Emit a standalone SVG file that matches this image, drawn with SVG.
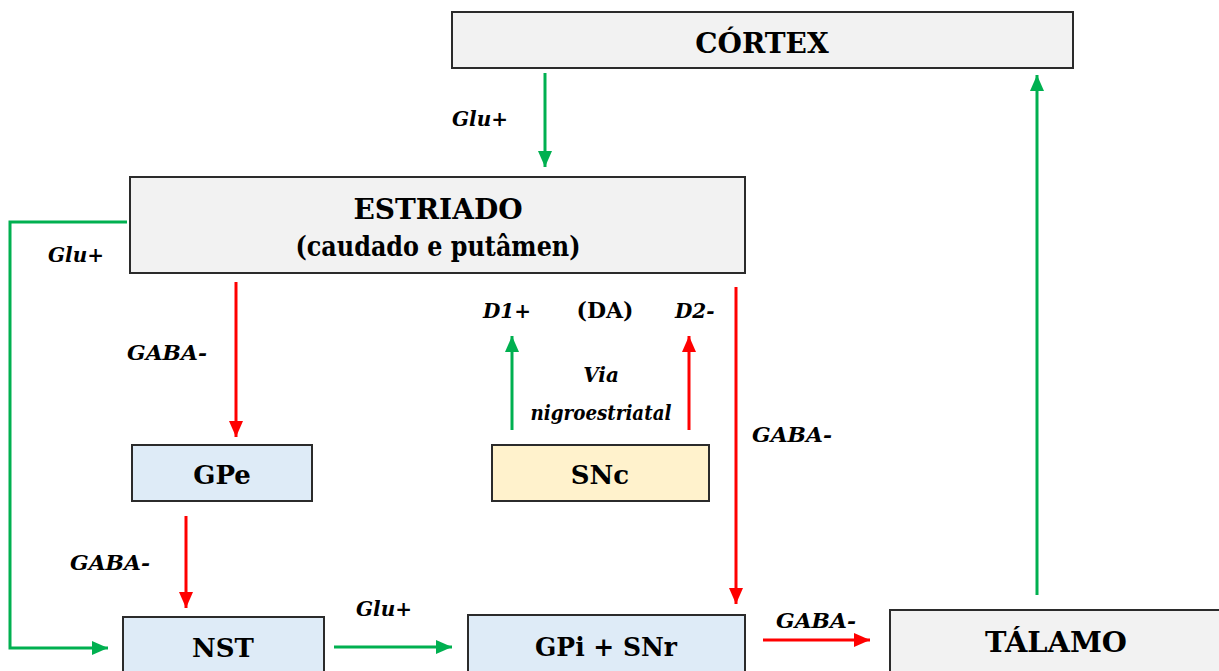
<svg xmlns="http://www.w3.org/2000/svg" width="1219" height="671" viewBox="0 0 1219 671">
<style>
.box{stroke:#2b2b2b;stroke-width:2}
.gray{fill:#f2f2f2}
.blue{fill:#deebf7}
.yel{fill:#fff2cc}
.t{font-family:'DejaVu Serif','Liberation Serif',serif;font-weight:700;font-size:26px;fill:#000;text-anchor:middle}
.big{font-size:28px}
.l{font-family:'DejaVu Serif','Liberation Serif',serif;font-weight:700;font-style:italic;font-size:20px;fill:#000}
.g{stroke:#00b050;stroke-width:3;fill:none}
.r{stroke:#ff0000;stroke-width:3;fill:none}
</style>
<defs>
<marker id="ag" markerUnits="userSpaceOnUse" markerWidth="16" markerHeight="16" viewBox="0 0 16 16" refX="16" refY="8" orient="auto"><path d="M0,1 L16,8 L0,15 Z" fill="#00b050"/></marker>
<marker id="ar" markerUnits="userSpaceOnUse" markerWidth="16" markerHeight="16" viewBox="0 0 16 16" refX="16" refY="8" orient="auto"><path d="M0,1 L16,8 L0,15 Z" fill="#ff0000"/></marker>
</defs>
<g id="cortex"><rect class="box gray" x="452" y="12" width="621" height="56"/><text class="t big" x="762" y="53">CÓRTEX</text></g>
<g id="estriado"><rect class="box gray" x="130" y="177" width="615" height="96"/><text class="t big" x="438" y="219">ESTRIADO</text><text class="t big" x="438" y="256" textLength="285" lengthAdjust="spacingAndGlyphs">(caudado e putâmen)</text></g>
<g id="gpe"><rect class="box blue" x="132" y="445" width="180" height="56"/><text class="t" x="222" y="484">GPe</text></g>
<g id="snc"><rect class="box yel" x="492" y="445" width="217" height="56"/><text class="t" x="600" y="484">SNc</text></g>
<g id="nst"><rect class="box blue" x="123" y="617" width="201" height="60"/><text class="t" x="223" y="657">NST</text></g>
<g id="gpi"><rect class="box blue" x="468" y="615" width="277" height="62"/><text class="t" x="606" y="656" textLength="142" lengthAdjust="spacingAndGlyphs">GPi + SNr</text></g>
<g id="talamo"><rect class="box gray" x="890" y="610" width="335" height="67"/><text class="t big" x="1056" y="652" textLength="142" lengthAdjust="spacingAndGlyphs">TÁLAMO</text></g>
<g id="connectors">
<path class="g" d="M545,73 V167" marker-end="url(#ag)"/>
<path class="g" d="M127,222 H10 V648 H108" marker-end="url(#ag)"/>
<path class="r" d="M236,282 V437" marker-end="url(#ar)"/>
<path class="r" d="M186,516 V608" marker-end="url(#ar)"/>
<path class="g" d="M334,647 H452" marker-end="url(#ag)"/>
<path class="r" d="M736,287 V604" marker-end="url(#ar)"/>
<path class="g" d="M512,430 V336" marker-end="url(#ag)"/>
<path class="r" d="M689,430 V336" marker-end="url(#ar)"/>
<path class="r" d="M763,640 H870" marker-end="url(#ar)"/>
<path class="g" d="M1037,595 V75" marker-end="url(#ag)"/>
</g>
<g id="labels">
<text class="l" x="452" y="126">Glu+</text>
<text class="l" x="48" y="262">Glu+</text>
<text class="l" x="127" y="360" textLength="80" lengthAdjust="spacingAndGlyphs">GABA-</text>
<text class="l" x="70" y="570" textLength="80" lengthAdjust="spacingAndGlyphs">GABA-</text>
<text class="l" x="356" y="616">Glu+</text>
<text class="l" x="752" y="442" textLength="80" lengthAdjust="spacingAndGlyphs">GABA-</text>
<text class="l" x="776" y="628" textLength="80" lengthAdjust="spacingAndGlyphs">GABA-</text>
<text class="l" x="483" y="318">D1+</text>
<text class="l" x="675" y="318">D2-</text>
<text class="t" x="605" y="318" style="font-size:22px">(DA)</text>
<text class="l" x="601" y="382" text-anchor="middle">Via</text>
<text class="l" x="601" y="420" text-anchor="middle" textLength="141" lengthAdjust="spacingAndGlyphs">nigroestriatal</text>
</g>
</svg>
